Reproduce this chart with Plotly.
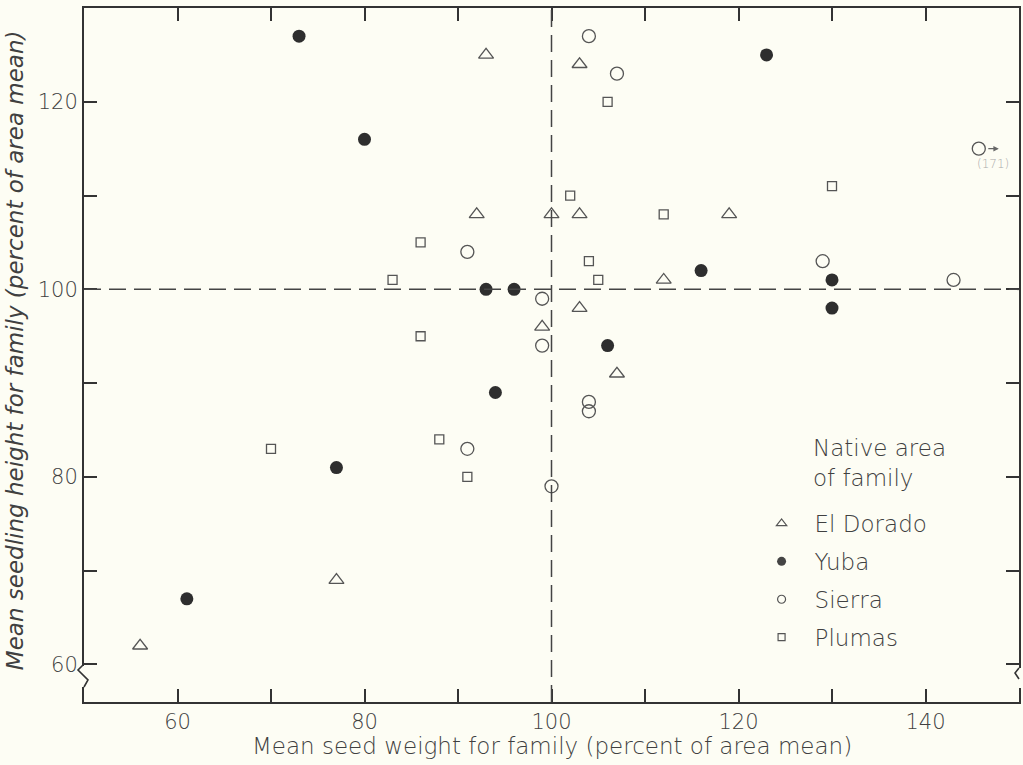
import plotly.graph_objects as go

# Family means, percent of area mean: seed weight (x) and seedling height (y)
eldorado_x = [56, 77, 93, 103, 92, 100, 103, 119, 112, 103, 99, 107]
eldorado_y = [62, 69, 125, 124, 108, 108, 108, 108, 101, 98, 96, 91]

yuba_x = [61, 77, 73, 80, 93, 96, 94, 106, 116, 123, 130, 130]
yuba_y = [67, 81, 127, 116, 100, 100, 89, 94, 102, 125, 101, 98]

sierra_x = [104, 107, 91, 99, 99, 104, 104, 91, 100, 129, 143, 171]
sierra_y = [127, 123, 104, 99, 94, 88, 87, 83, 79, 103, 101, 115]

plumas_x = [70, 88, 91, 86, 83, 86, 102, 104, 105, 106, 112, 130]
plumas_y = [83, 84, 80, 95, 101, 105, 110, 103, 101, 120, 108, 111]

x_ticks = [60, 70, 80, 90, 100, 110, 120, 130, 140]
x_labels = ["60", "", "80", "", "100", "", "120", "", "140"]
y_ticks = [60, 70, 80, 90, 100, 110, 120]
y_labels = ["60", "", "80", "", "100", "", "120"]

X_RANGE = [50, 150]
Y_RANGE = [56, 130]
X_EDGE = 145.7  # values beyond the axis are drawn here with an arrow

BG = "#fdfdf4"
INK = "#404040"
DARK = "#2e2e2e"
FONT = "DejaVu Sans"
WEIGHT = 300

fig = go.Figure()

series = [
    ("El Dorado", eldorado_x, eldorado_y,
     dict(symbol="triangle-up-open", size=13, color="#555", line=dict(width=1.3, color="#555")),
     dict(symbol="triangle-up-open", size=9, color="#555", line=dict(width=1.2, color="#555"))),
    ("Yuba", yuba_x, yuba_y,
     dict(symbol="circle", size=13, color=DARK, line=dict(width=0)),
     dict(symbol="circle", size=9, color="#444", line=dict(width=0))),
    ("Sierra", sierra_x, sierra_y,
     dict(symbol="circle-open", size=13, color="#555", line=dict(width=1.3, color="#555")),
     dict(symbol="circle-open", size=8, color="#555", line=dict(width=1.2, color="#555"))),
    ("Plumas", plumas_x, plumas_y,
     dict(symbol="square-open", size=9, color="#555", line=dict(width=1.3, color="#555")),
     dict(symbol="square-open", size=7, color="#555", line=dict(width=1.2, color="#555"))),
]

for name, xs, ys, mk, legend_mk in series:
    shown_x = [min(v, X_EDGE) for v in xs]
    fig.add_trace(go.Scatter(x=shown_x, y=ys, mode="markers", marker=mk,
                             name=name, showlegend=False, cliponaxis=False))
    # smaller symbol for the key
    fig.add_trace(go.Scatter(x=[None], y=[None], mode="markers", marker=legend_mk,
                             name=name, legendgroup=name, showlegend=True))

# Off-scale values: arrow and true value next to the point
annotations = []
for xs, ys in [(eldorado_x, eldorado_y), (yuba_x, yuba_y), (sierra_x, sierra_y), (plumas_x, plumas_y)]:
    for xv, yv in zip(xs, ys):
        if xv > X_EDGE:
            annotations.append(dict(x=X_EDGE, y=yv, xref="x", yref="y", text="",
                                    showarrow=True, ax=-12, ay=0, xshift=20,
                                    arrowhead=2, arrowsize=0.9, arrowwidth=1.2,
                                    arrowcolor="#666"))
            annotations.append(dict(x=X_EDGE, y=yv, xref="x", yref="y",
                                    text=f"({xv})", showarrow=False,
                                    xshift=14, yshift=-15,
                                    font=dict(family=FONT, size=12, color="#aaa", weight=WEIGHT)))

# Key heading
annotations.append(dict(x=(813 - 84) / 937, y=(702 - 433) / 694, xref="paper", yref="paper",
                        xanchor="left", yanchor="top", align="left", showarrow=False,
                        text="Native area<br>of family",
                        font=dict(family=FONT, size=23, color=INK, weight=WEIGHT)))

# Axis titles
annotations.append(dict(x=0.5005, y=(702 - 746) / 694, xref="paper", yref="paper",
                        xanchor="center", yanchor="middle", showarrow=False,
                        text="Mean seed weight for family (percent of area mean)",
                        font=dict(family=FONT, size=23, color=INK, weight=WEIGHT)))
annotations.append(dict(x=(15 - 84) / 937, y=(702 - 350) / 694, xref="paper", yref="paper",
                        xanchor="center", yanchor="middle", showarrow=False, textangle=-90,
                        text="Mean seedling height for family (percent of area mean)",
                        font=dict(family=FONT, size=23, color=INK, style="italic", weight=WEIGHT)))

def px_x(p):
    return (p - 84) / 937

def px_y(p):
    return (702 - p) / 694

shapes = [
    # reference lines at the area mean
    dict(type="line", xref="x", yref="y", x0=100, x1=100, y0=Y_RANGE[0], y1=Y_RANGE[1],
         line=dict(color="#444", width=1.5, dash="17px,8px")),
    dict(type="line", xref="x", yref="y", x0=X_RANGE[0], x1=X_RANGE[1], y0=100, y1=100,
         line=dict(color="#444", width=1.5, dash="17px,8px")),
    # axis breaks below 60
    dict(type="rect", xref="paper", yref="paper", x0=px_x(80), x1=px_x(88),
         y0=px_y(687), y1=px_y(666), fillcolor=BG, line=dict(width=0), layer="above"),
    dict(type="path", xref="paper", yref="paper",
         path=f"M {px_x(84)} {px_y(664)} L {px_x(78)} {px_y(670)} L {px_x(88)} {px_y(680)} "
              f"L {px_x(84)} {px_y(687)}",
         line=dict(color="#333", width=1.6), layer="above"),
    dict(type="rect", xref="paper", yref="paper", x0=px_x(1017), x1=px_x(1024),
         y0=px_y(688), y1=px_y(668), fillcolor=BG, line=dict(width=0), layer="above"),
    dict(type="path", xref="paper", yref="paper",
         path=f"M {px_x(1021)} {px_y(668)} L {px_x(1017)} {px_y(673)} L {px_x(1021)} {px_y(679)}",
         line=dict(color="#333", width=1.6), layer="above"),
]

axis_common = dict(showgrid=False, zeroline=False, showline=True, linecolor="#333",
                   linewidth=2, mirror="ticks", ticks="inside", ticklen=13,
                   tickwidth=1.5, tickcolor="#333",
                   tickfont=dict(family=FONT, size=21, color=INK, weight=WEIGHT))

fig.update_xaxes(range=X_RANGE, tickvals=x_ticks, ticktext=x_labels, **axis_common)
fig.update_yaxes(range=Y_RANGE, tickvals=y_ticks, ticktext=y_labels, **axis_common)

fig.update_layout(
    width=1023, height=765,
    margin=dict(l=84, r=2, t=8, b=63),
    paper_bgcolor=BG, plot_bgcolor=BG,
    font=dict(family=FONT, color=INK, weight=WEIGHT),
    showlegend=True,
    legend=dict(x=(750 - 84) / 937, y=(702 - 502) / 694, xanchor="left", yanchor="top",
                bgcolor="rgba(0,0,0,0)", tracegroupgap=5, itemwidth=56,
                font=dict(family=FONT, size=23, color=INK, weight=WEIGHT)),
    annotations=annotations,
    shapes=shapes,
)

fig.write_html("out.html")
